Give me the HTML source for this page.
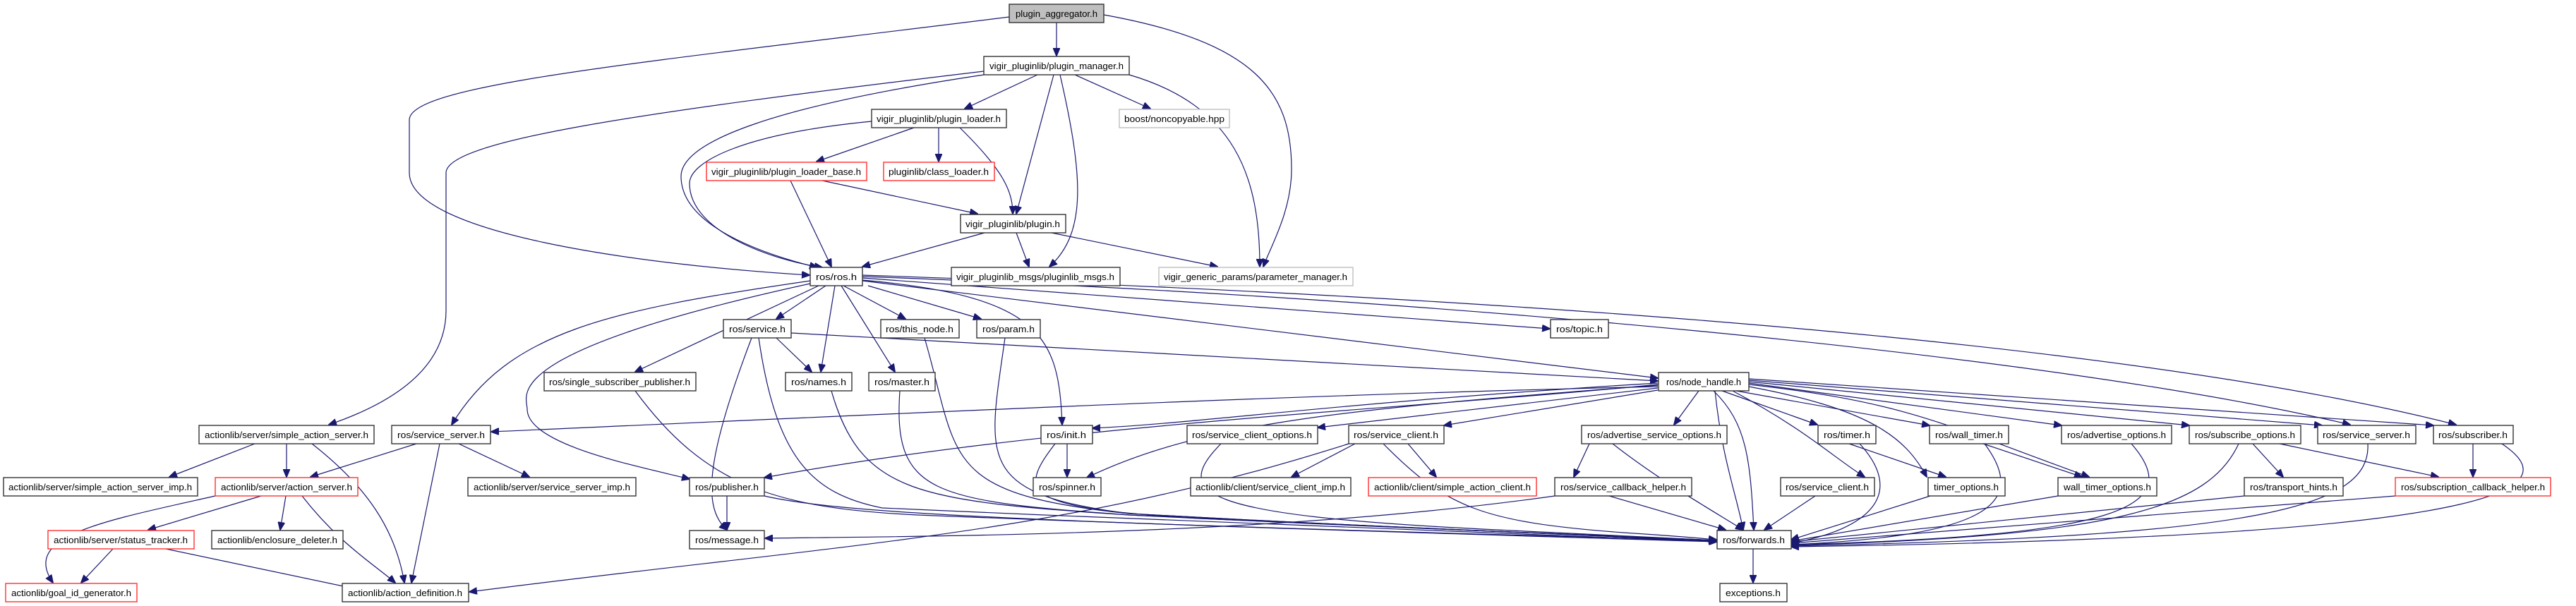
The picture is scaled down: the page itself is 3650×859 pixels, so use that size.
<!DOCTYPE html>
<html><head><meta charset="utf-8"><style>
html,body{margin:0;padding:0;background:#fff;}
svg{display:block}
text{font-family:"Liberation Sans",Arial,sans-serif;font-size:13px;fill:#000;text-anchor:middle}
.n{fill:#fff;stroke:#333;stroke-width:1.4}
.r{fill:#fff;stroke:#ff3030;stroke-width:1.4}
.g{fill:#fff;stroke:#bfbfbf;stroke-width:1.4}
.a{fill:#bfbfbf;stroke:#333;stroke-width:1.4}
path{fill:none;stroke:#191970;stroke-width:1.2;marker-end:url(#m)}
</style></head><body>
<svg width="3650" height="859" viewBox="0 0 3650 859" xmlns="http://www.w3.org/2000/svg">
<defs><marker id="m" markerUnits="userSpaceOnUse" markerWidth="12" markerHeight="10" refX="11" refY="5" orient="auto"><polygon points="0,0 12,5 0,10" fill="#191970" stroke="#191970"/></marker></defs>

<!-- edges -->
<path d="M1497,32 L1497,79"/>
<path d="M1430,24 C900,90 580,120 580,170 L580,245 C580,330 900,375 1147,390"/>
<path d="M1564,21 C1780,60 1830,130 1830,240 C1830,300 1800,350 1790,378"/>
<path d="M1470,106 L1367,154"/>
<path d="M1523,106 L1630,154"/>
<path d="M1493,106 L1440,303"/>
<path d="M1502,106 C1535,250 1540,330 1487,378"/>
<path d="M1600,106 C1750,150 1785,250 1785,378"/>
<path d="M1394,106 C1100,150 965,200 965,250 C965,320 1080,360 1158,379"/>
<path d="M1394,101 C900,160 632,200 632,245 L632,440 C632,520 560,570 466,602"/>
<path d="M1295,181 L1157,229"/>
<path d="M1330,181 L1330,229"/>
<path d="M1360,181 C1420,240 1435,270 1435,303"/>
<path d="M1235,172 C1050,190 977,230 977,260 C977,330 1100,370 1165,379"/>
<path d="M1120,256 L1178,378"/>
<path d="M1165,256 L1385,303"/>
<path d="M1395,330 L1222,378"/>
<path d="M1440,330 L1458,378"/>
<path d="M1490,330 L1725,378"/>

<path d="M1170,405 L1100,452"/>
<path d="M1195,405 L1283,452"/>
<path d="M1230,405 L1390,452"/>
<path d="M1183,405 L1163,527"/>
<path d="M1192,405 L1268,527"/>
<path d="M1160,405 L900,527"/>
<path d="M1222,397 C1480,420 1500,480 1505,602"/>
<path d="M1222,394 L2196,466"/>
<path d="M1222,398 L2349,536"/>
<path d="M1222,392 C2000,420 2900,500 3330,602"/>
<path d="M1222,390 C2100,420 3000,480 3480,602"/>
<path d="M1148,398 C860,440 720,470 640,602"/>
<path d="M1148,402 C700,500 747,560 747,580 C747,630 900,660 977,679"/>

<path d="M1100,479 L1150,527"/>
<path d="M1065,479 C1000,650 995,720 1030,751"/>
<path d="M1075,479 C1100,650 1150,700 1250,720 C1700,740 2200,760 2432,768"/>
<path d="M1121,472 L2349,540"/>
<path d="M900,554 C1000,690 1100,720 1300,730 C1800,750 2200,760 2432,766"/>
<path d="M1178,554 C1220,700 1300,710 1600,730 C2000,750 2300,760 2432,767"/>
<path d="M1275,554 C1265,700 1320,710 1600,730 C2000,750 2300,760 2432,766"/>
<path d="M1310,479 C1360,650 1330,700 1600,728 C2000,750 2300,760 2432,766"/>
<path d="M1424,479 C1400,650 1380,700 1600,728 C2000,750 2300,760 2432,766"/>
<path d="M1512,629 L1512,676"/>
<path d="M1495,629 C1440,700 1450,720 1700,735 C2000,750 2300,760 2432,767"/>
<path d="M1030,703 L1030,751"/>
<path d="M1083,703 C1200,730 1500,740 2432,768"/>
<path d="M2203,703 C1800,760 1300,760 1084,763"/>
<path d="M1911,629 C1500,760 1200,770 665,839"/>

<path d="M2349,548 C1800,560 1200,590 696,612"/>
<path d="M2349,545 C2000,580 1500,600 1083,677"/>
<path d="M2349,543 C1900,570 1700,600 1548,607"/>
<path d="M2349,546 C1900,580 1700,600 1540,677"/>
<path d="M2349,550 L1867,606"/>
<path d="M2349,553 L2046,603"/>
<path d="M2407,554 L2372,602"/>
<path d="M2428,554 C2475,600 2480,650 2485,751"/>
<path d="M2440,554 L2575,602"/>
<path d="M2455,554 C2560,610 2600,650 2642,676"/>
<path d="M2460,554 L2734,603"/>
<path d="M2478,548 C2650,580 2700,620 2730,676"/>
<path d="M2478,545 C2700,570 2750,600 2960,676"/>
<path d="M2478,543 L2921,603"/>
<path d="M2478,541 L3102,603"/>
<path d="M2478,539 L3290,603"/>
<path d="M2478,537 L3448,603"/>
<path d="M2430,554 C2440,650 2460,700 2470,751"/>

<path d="M1960,629 C2050,720 2100,740 2300,755 C2380,760 2420,764 2432,765"/>
<path d="M2285,629 C2350,680 2420,720 2470,751"/>
<path d="M2252,629 L2230,676"/>
<path d="M2280,703 L2445,751"/>
<path d="M2572,703 L2500,751"/>
<path d="M1730,629 C1660,700 1700,730 2100,750 C2300,760 2400,764 2432,766"/>
<path d="M1920,629 L1830,676"/>
<path d="M1995,629 L2035,676"/>
<path d="M2620,629 L2757,676"/>
<path d="M2635,629 C2700,700 2650,750 2538,770"/>
<path d="M2810,629 L2950,676"/>
<path d="M2812,629 C2880,720 2800,760 2538,772"/>
<path d="M2735,703 L2538,765"/>
<path d="M2916,703 L2538,767"/>
<path d="M3020,629 C3100,720 3000,760 2538,772"/>
<path d="M3172,629 C3130,720 3000,760 2538,773"/>
<path d="M3192,629 L3235,676"/>
<path d="M3230,629 L3455,676"/>
<path d="M3355,629 C3360,720 3200,760 2538,774"/>
<path d="M3504,629 L3504,676"/>
<path d="M3545,629 C3620,680 3640,760 2538,775"/>
<path d="M3180,703 L2538,768"/>
<path d="M3394,703 L2538,770"/>
<path d="M2484,778 L2484,826"/>

<path d="M361,629 L240,676"/>
<path d="M406,629 L406,676"/>
<path d="M442,629 C520,690 560,750 573,826"/>
<path d="M590,629 L440,676"/>
<path d="M623,629 L583,826"/>
<path d="M650,629 L750,676"/>
<path d="M305,703 C140,740 30,760 75,826"/>
<path d="M370,703 L210,751"/>
<path d="M405,703 L397,751"/>
<path d="M428,703 C480,770 530,800 560,826"/>
<path d="M160,778 L115,826"/>
<path d="M235,778 L510,836"/>

<!-- nodes -->
<rect class="a" x="1430" y="6" width="134" height="26"/><text x="1497" y="24" textLength="116" lengthAdjust="spacingAndGlyphs">plugin_aggregator.h</text>
<rect class="n" x="1394" y="80" width="206" height="26"/><text x="1497" y="98" textLength="190" lengthAdjust="spacingAndGlyphs">vigir_pluginlib/plugin_manager.h</text>
<rect class="n" x="1235" y="155" width="191" height="26"/><text x="1330" y="173" textLength="176" lengthAdjust="spacingAndGlyphs">vigir_pluginlib/plugin_loader.h</text>
<rect class="g" x="1586" y="155" width="156" height="26"/><text x="1664" y="173" textLength="142" lengthAdjust="spacingAndGlyphs">boost/noncopyable.hpp</text>
<rect class="r" x="1001" y="230" width="227" height="26"/><text x="1114" y="248" textLength="212" lengthAdjust="spacingAndGlyphs">vigir_pluginlib/plugin_loader_base.h</text>
<rect class="r" x="1252" y="230" width="157" height="26"/><text x="1330" y="248" textLength="142" lengthAdjust="spacingAndGlyphs">pluginlib/class_loader.h</text>
<rect class="n" x="1361" y="304" width="149" height="26"/><text x="1435" y="322" textLength="134" lengthAdjust="spacingAndGlyphs">vigir_pluginlib/plugin.h</text>
<rect class="n" x="1148" y="379" width="74" height="26"/><text x="1185" y="397" textLength="58" lengthAdjust="spacingAndGlyphs">ros/ros.h</text>
<rect class="n" x="1348" y="379" width="239" height="26"/><text x="1467" y="397" textLength="224" lengthAdjust="spacingAndGlyphs">vigir_pluginlib_msgs/pluginlib_msgs.h</text>
<rect class="g" x="1642" y="379" width="275" height="26"/><text x="1779" y="397" textLength="260" lengthAdjust="spacingAndGlyphs">vigir_generic_params/parameter_manager.h</text>

<rect class="n" x="1025" y="453" width="96" height="26"/><text x="1073" y="471" textLength="80" lengthAdjust="spacingAndGlyphs">ros/service.h</text>
<rect class="n" x="1248" y="453" width="111" height="26"/><text x="1303" y="471" textLength="96" lengthAdjust="spacingAndGlyphs">ros/this_node.h</text>
<rect class="n" x="1384" y="453" width="90" height="26"/><text x="1429" y="471" textLength="74" lengthAdjust="spacingAndGlyphs">ros/param.h</text>
<rect class="n" x="2197" y="453" width="82" height="26"/><text x="2238" y="471" textLength="66" lengthAdjust="spacingAndGlyphs">ros/topic.h</text>

<rect class="n" x="771" y="528" width="215" height="26"/><text x="878" y="546" textLength="200" lengthAdjust="spacingAndGlyphs">ros/single_subscriber_publisher.h</text>
<rect class="n" x="1113" y="528" width="94" height="26"/><text x="1160" y="546" textLength="78" lengthAdjust="spacingAndGlyphs">ros/names.h</text>
<rect class="n" x="1231" y="528" width="94" height="26"/><text x="1278" y="546" textLength="78" lengthAdjust="spacingAndGlyphs">ros/master.h</text>
<rect class="n" x="2350" y="528" width="128" height="26"/><text x="2414" y="546" textLength="106" lengthAdjust="spacingAndGlyphs">ros/node_handle.h</text>

<rect class="n" x="282" y="603" width="248" height="26"/><text x="406" y="621" textLength="232" lengthAdjust="spacingAndGlyphs">actionlib/server/simple_action_server.h</text>
<rect class="n" x="555" y="603" width="140" height="26"/><text x="625" y="621" textLength="124" lengthAdjust="spacingAndGlyphs">ros/service_server.h</text>
<rect class="n" x="1475" y="603" width="73" height="26"/><text x="1511" y="621" textLength="56" lengthAdjust="spacingAndGlyphs">ros/init.h</text>
<rect class="n" x="1682" y="603" width="185" height="26"/><text x="1774" y="621" textLength="170" lengthAdjust="spacingAndGlyphs">ros/service_client_options.h</text>
<rect class="n" x="1911" y="603" width="135" height="26"/><text x="1978" y="621" textLength="120" lengthAdjust="spacingAndGlyphs">ros/service_client.h</text>
<rect class="n" x="2241" y="603" width="206" height="26"/><text x="2344" y="621" textLength="190" lengthAdjust="spacingAndGlyphs">ros/advertise_service_options.h</text>
<rect class="n" x="2576" y="603" width="82" height="26"/><text x="2617" y="621" textLength="66" lengthAdjust="spacingAndGlyphs">ros/timer.h</text>
<rect class="n" x="2734" y="603" width="112" height="26"/><text x="2790" y="621" textLength="96" lengthAdjust="spacingAndGlyphs">ros/wall_timer.h</text>
<rect class="n" x="2921" y="603" width="156" height="26"/><text x="2999" y="621" textLength="140" lengthAdjust="spacingAndGlyphs">ros/advertise_options.h</text>
<rect class="n" x="3102" y="603" width="158" height="26"/><text x="3181" y="621" textLength="142" lengthAdjust="spacingAndGlyphs">ros/subscribe_options.h</text>
<rect class="n" x="3284" y="603" width="139" height="26"/><text x="3353" y="621" textLength="124" lengthAdjust="spacingAndGlyphs">ros/service_server.h</text>
<rect class="n" x="3448" y="603" width="113" height="26"/><text x="3504" y="621" textLength="98" lengthAdjust="spacingAndGlyphs">ros/subscriber.h</text>

<rect class="n" x="5" y="677" width="275" height="26"/><text x="142" y="695" textLength="260" lengthAdjust="spacingAndGlyphs">actionlib/server/simple_action_server_imp.h</text>
<rect class="r" x="305" y="677" width="202" height="26"/><text x="406" y="695" textLength="186" lengthAdjust="spacingAndGlyphs">actionlib/server/action_server.h</text>
<rect class="n" x="663" y="677" width="238" height="26"/><text x="782" y="695" textLength="222" lengthAdjust="spacingAndGlyphs">actionlib/server/service_server_imp.h</text>
<rect class="n" x="977" y="677" width="106" height="26"/><text x="1030" y="695" textLength="90" lengthAdjust="spacingAndGlyphs">ros/publisher.h</text>
<rect class="n" x="1464" y="677" width="96" height="26"/><text x="1512" y="695" textLength="80" lengthAdjust="spacingAndGlyphs">ros/spinner.h</text>
<rect class="n" x="1687" y="677" width="227" height="26"/><text x="1800" y="695" textLength="212" lengthAdjust="spacingAndGlyphs">actionlib/client/service_client_imp.h</text>
<rect class="r" x="1939" y="677" width="238" height="26"/><text x="2058" y="695" textLength="222" lengthAdjust="spacingAndGlyphs">actionlib/client/simple_action_client.h</text>
<rect class="n" x="2203" y="677" width="194" height="26"/><text x="2300" y="695" textLength="178" lengthAdjust="spacingAndGlyphs">ros/service_callback_helper.h</text>
<rect class="n" x="2523" y="677" width="133" height="26"/><text x="2589" y="695" textLength="118" lengthAdjust="spacingAndGlyphs">ros/service_client.h</text>
<rect class="n" x="2732" y="677" width="109" height="26"/><text x="2786" y="695" textLength="92" lengthAdjust="spacingAndGlyphs">timer_options.h</text>
<rect class="n" x="2916" y="677" width="140" height="26"/><text x="2986" y="695" textLength="124" lengthAdjust="spacingAndGlyphs">wall_timer_options.h</text>
<rect class="n" x="3180" y="677" width="140" height="26"/><text x="3250" y="695" textLength="124" lengthAdjust="spacingAndGlyphs">ros/transport_hints.h</text>
<rect class="r" x="3394" y="677" width="220" height="26"/><text x="3504" y="695" textLength="204" lengthAdjust="spacingAndGlyphs">ros/subscription_callback_helper.h</text>

<rect class="r" x="68" y="752" width="207" height="26"/><text x="171" y="770" textLength="190" lengthAdjust="spacingAndGlyphs">actionlib/server/status_tracker.h</text>
<rect class="n" x="300" y="752" width="186" height="26"/><text x="393" y="770" textLength="170" lengthAdjust="spacingAndGlyphs">actionlib/enclosure_deleter.h</text>
<rect class="n" x="977" y="752" width="106" height="26"/><text x="1030" y="770" textLength="90" lengthAdjust="spacingAndGlyphs">ros/message.h</text>
<rect class="n" x="2433" y="752" width="105" height="26"/><text x="2485" y="770" textLength="88" lengthAdjust="spacingAndGlyphs">ros/forwards.h</text>

<rect class="r" x="8" y="827" width="186" height="26"/><text x="101" y="845" textLength="170" lengthAdjust="spacingAndGlyphs">actionlib/goal_id_generator.h</text>
<rect class="n" x="485" y="827" width="179" height="26"/><text x="574" y="845" textLength="162" lengthAdjust="spacingAndGlyphs">actionlib/action_definition.h</text>
<rect class="n" x="2437" y="827" width="95" height="26"/><text x="2484" y="845" textLength="78" lengthAdjust="spacingAndGlyphs">exceptions.h</text>
</svg>
</body></html>
